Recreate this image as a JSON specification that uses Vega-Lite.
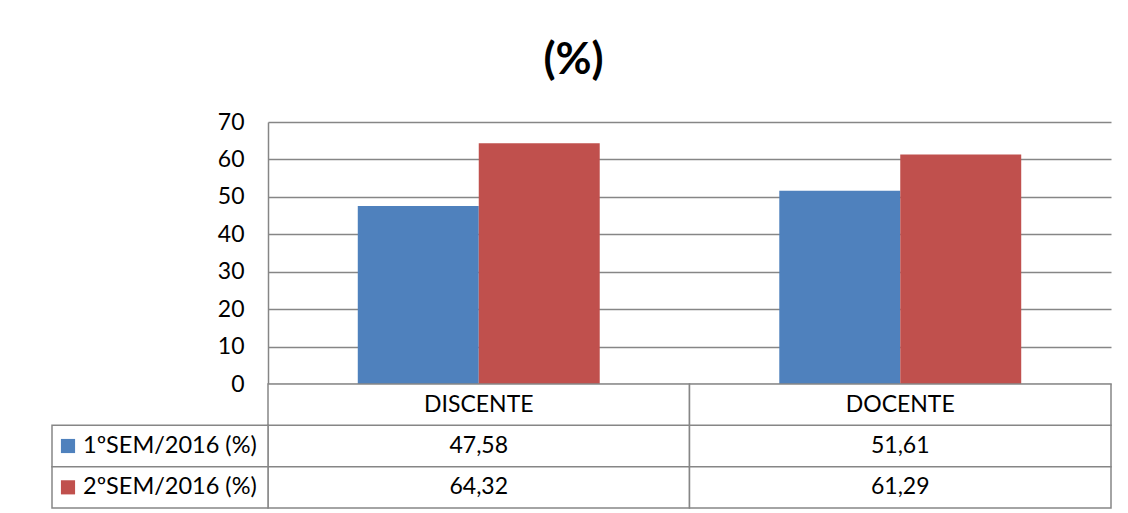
{
  "$schema": "https://vega.github.io/schema/vega-lite/v6.json",
  "width": 843,
  "height": 262,
  "autosize": {"type": "none"},
  "padding": {"left": 268, "top": 122, "right": 17, "bottom": 129},
  "background": "white",
  "config": {
    "font": "Lato",
    "view": {"stroke": null},
    "locale": {"number": {"decimal": ",", "thousands": ".", "grouping": [3], "currency": ["", ""]}}
  },
  "title": {"text": "(%)", "fontSize": 44, "fontWeight": "bold", "color": "black", "anchor": "middle", "offset": 28, "dx": -116},
  "data": {
    "values": [
      {"category": "DISCENTE", "series": "1ºSEM/2016 (%)", "value": 47.58},
      {"category": "DISCENTE", "series": "2ºSEM/2016 (%)", "value": 64.32},
      {"category": "DOCENTE", "series": "1ºSEM/2016 (%)", "value": 51.61},
      {"category": "DOCENTE", "series": "2ºSEM/2016 (%)", "value": 61.29}
    ]
  },
  "layer": [
    {
      "mark": {"type": "bar"},
      "encoding": {
        "x": {"field": "category", "type": "nominal", "sort": ["DISCENTE", "DOCENTE"], "scale": {"paddingInner": 0.426, "paddingOuter": 0.213}, "axis": null},
        "xOffset": {"field": "series", "type": "nominal", "scale": {"paddingInner": 0, "paddingOuter": 0}},
        "y": {
          "field": "value", "type": "quantitative",
          "scale": {"domain": [0, 70], "nice": false},
          "axis": {"values": [0, 10, 20, 30, 40, 50, 60, 70], "grid": true, "gridColor": "#868686", "gridWidth": 1.5, "domainColor": "#868686", "domainWidth": 1.5, "ticks": false, "labelFontSize": 23, "labelColor": "black", "labelPadding": 24, "title": null}
        },
        "color": {"field": "series", "type": "nominal", "scale": {"range": ["#4F81BD", "#C0504D"]}, "legend": null}
      }
    },
    {
      "layer": [
        {
          "mark": {"type": "rect", "fill": "white", "stroke": "#868686", "strokeWidth": 1.5},
          "encoding": {
            "x": {"field": "category", "type": "nominal", "sort": ["DISCENTE", "DOCENTE"], "scale": {"paddingInner": 0, "paddingOuter": 0}, "axis": null},
            "y": {"field": "series", "type": "nominal", "scale": {"domain": ["cab", "1ºSEM/2016 (%)", "2ºSEM/2016 (%)"], "range": [262, 386], "paddingInner": 0, "paddingOuter": 0}, "axis": null}
          }
        },
        {
          "transform": [{"filter": "datum.series === '1ºSEM/2016 (%)'"}],
          "mark": {"type": "rect", "fill": "white", "stroke": "#868686", "strokeWidth": 1.5},
          "encoding": {
            "x": {"field": "category", "type": "nominal", "sort": ["DISCENTE", "DOCENTE"], "axis": null},
            "y": {"datum": "cab", "type": "nominal", "axis": null}
          }
        },
        {
          "transform": [{"filter": "datum.series === '1ºSEM/2016 (%)'"}],
          "mark": {"type": "text", "fontSize": 23, "color": "black"},
          "encoding": {
            "x": {"field": "category", "type": "nominal", "sort": ["DISCENTE", "DOCENTE"], "axis": null},
            "y": {"datum": "cab", "type": "nominal", "axis": null},
            "text": {"field": "category"}
          }
        },
        {
          "mark": {"type": "text", "fontSize": 23, "color": "black"},
          "encoding": {
            "x": {"field": "category", "type": "nominal", "sort": ["DISCENTE", "DOCENTE"], "axis": null},
            "y": {"field": "series", "type": "nominal", "axis": null},
            "text": {"field": "value", "type": "quantitative", "format": ".2f"}
          }
        }
      ]
    },
    {
      "transform": [{"filter": "datum.category === 'DISCENTE'"}],
      "layer": [
        {
          "mark": {"type": "rect", "fill": "white", "stroke": "#868686", "strokeWidth": 1.5},
          "encoding": {
            "x": {"datum": "L", "type": "nominal", "scale": {"domain": ["L"], "range": [-216, 0], "paddingInner": 0, "paddingOuter": 0}, "axis": null},
            "y": {"field": "series", "type": "nominal", "scale": {"domain": ["cab", "1ºSEM/2016 (%)", "2ºSEM/2016 (%)"], "range": [262, 386], "paddingInner": 0, "paddingOuter": 0}, "axis": null}
          }
        },
        {
          "mark": {"type": "square", "size": 200, "opacity": 1, "filled": true, "xOffset": 16},
          "encoding": {
            "x": {"datum": "L", "type": "nominal", "bandPosition": 0, "axis": null},
            "y": {"field": "series", "type": "nominal", "axis": null},
            "color": {"field": "series", "type": "nominal", "legend": null}
          }
        },
        {
          "mark": {"type": "text", "fontSize": 23.5, "color": "black", "align": "left", "dx": 31},
          "encoding": {
            "x": {"datum": "L", "type": "nominal", "bandPosition": 0, "axis": null},
            "y": {"field": "series", "type": "nominal", "axis": null},
            "text": {"field": "series"}
          }
        }
      ]
    }
  ],
  "resolve": {"scale": {"x": "independent", "y": "independent"}}
}
